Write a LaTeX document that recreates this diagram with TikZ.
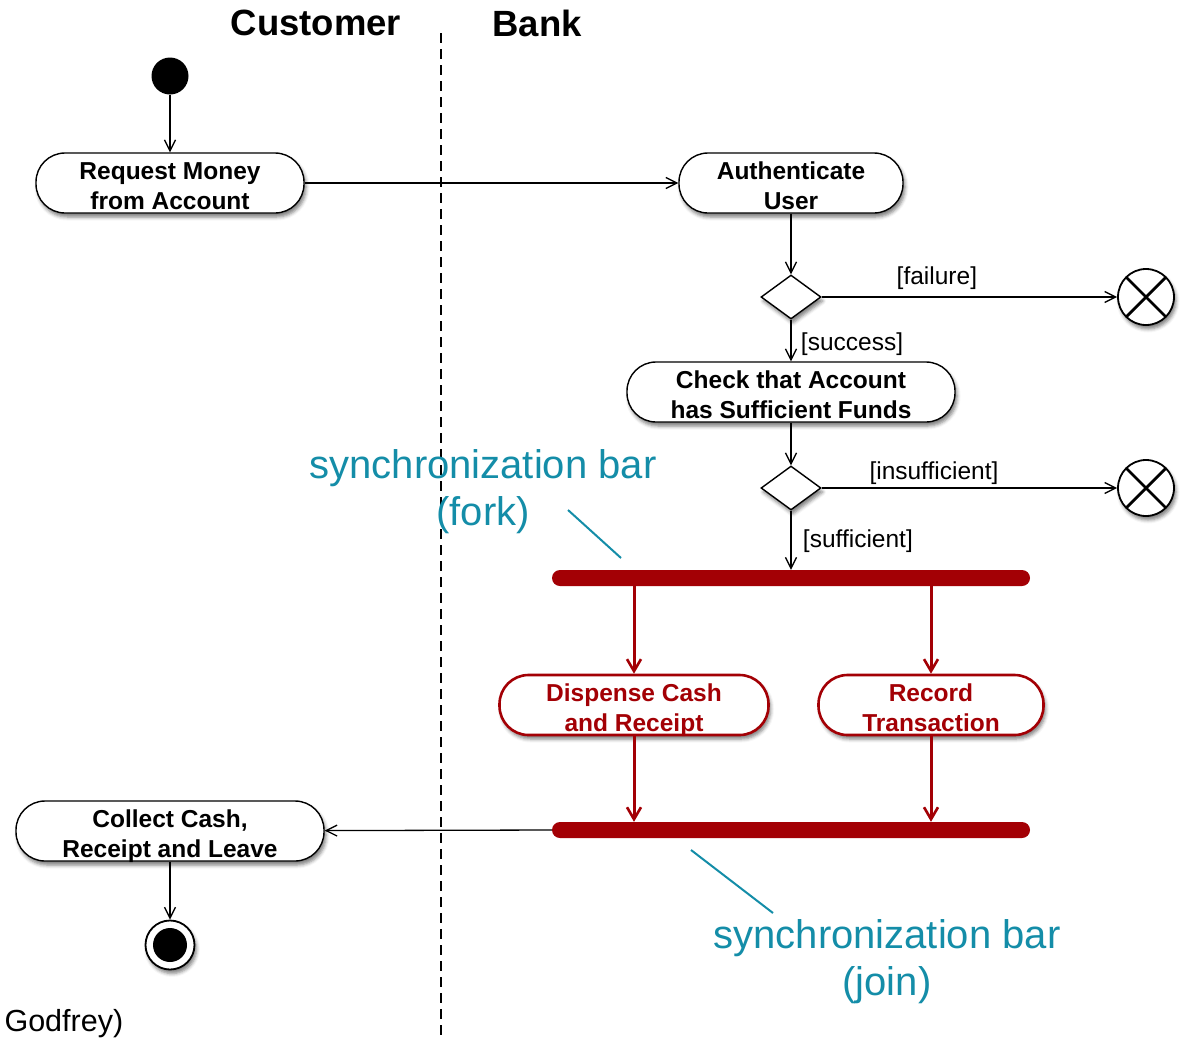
\documentclass[tikz,border=0pt]{standalone}
\usepackage{fontspec}
\setmainfont{Liberation Sans}
\usetikzlibrary{arrows.meta,shapes.geometric,shadows.blur,calc}
\definecolor{barred}{HTML}{A30005}
\definecolor{noteteal}{HTML}{148DA8}
\tikzset{
  x=1pt, y=-1pt,
  shade/.style={blur shadow={shadow xshift=2pt, shadow yshift=-4pt, shadow blur radius=3.5pt, shadow opacity=50}},
  action/.style={draw, line width=1.4pt, fill=white, rounded corners=29pt, minimum height=60pt,
    align=center, font=\fontsize{24.5}{30}\selectfont\bfseries, inner sep=0pt,
    text height=53pt, text depth=0pt, shade},
  redaction/.style={action, draw=barred, text=barred, line width=2.6pt},
  decision/.style={draw, diamond, line width=1.4pt, fill=white, minimum width=60pt, minimum height=44pt, inner sep=0pt, shade},
  flowend/.style={draw, circle, line width=1.8pt, fill=white, minimum size=56pt, inner sep=0pt, shade,
    path picture={\draw[line width=2.8pt] (path picture bounding box.north west) -- (path picture bounding box.south east)
      (path picture bounding box.north east) -- (path picture bounding box.south west);}},
  syncbar/.style={fill=barred, rounded corners=8pt, minimum width=478pt, minimum height=16pt, inner sep=0pt},
  flow/.style={line width=1.3pt, -{Straight Barb[length=11pt,width=11pt]}},
  redflow/.style={draw=barred, line width=3pt, -{Straight Barb[length=12pt,width=14pt,line width=2.6pt]}},
  guard/.style={font=\fontsize{24.5}{28}\selectfont},
  note/.style={text=noteteal, align=center, font=\fontsize{40}{47}\selectfont},
  leader/.style={draw=noteteal, line width=2pt},
  lane/.style={font=\fontsize{36.5}{40}\selectfont\bfseries}
}
\begin{document}
\begin{tikzpicture}
\useasboundingbox (0,0) rectangle (1186,1037);

% swimlane headers and divider
\node[lane] (cust) at (316,23) {Customer};
\node[lane] (bank) at (537,23) {Bank};
\coordinate (laneTop) at (441,33);
\coordinate (laneBot) at (441,1037);
\draw[line width=1.2pt, dash pattern=on 10pt off 6pt] (laneTop) -- (laneBot);

% start node
\node[circle, fill=black, minimum size=37pt, inner sep=0pt] (start) at (170,76) {};

% actions
\node[action, minimum width=268pt] (req) at (170,183) {Request Money\\from Account};
\node[action, minimum width=224pt] (auth) at (791,183) {Authenticate\\User};
\node[decision] (d1) at (791,297) {};
\node[flowend] (x1) at (1146,297) {};
\node[action, minimum width=328pt] (check) at (791,392) {Check that Account\\has Sufficient Funds};
\node[decision] (d2) at (791,488) {};
\node[flowend] (x2) at (1146,488) {};

% fork / join bars
\node[syncbar] (fork) at (791,578) {};
\node[redaction, minimum width=269pt] (disp) at (634,705) {Dispense Cash\\and Receipt};
\node[redaction, minimum width=225pt] (rec) at (931,705) {Record\\Transaction};
\node[syncbar] (join) at (791,830) {};

% customer finishing
\node[action, minimum width=308pt] (collect) at (170,831) {Collect Cash,\\Receipt and Leave};
\node[circle, draw, line width=1.8pt, fill=white, minimum size=49pt, inner sep=0pt, shade] (stop) at (170,945) {};
\node[circle, fill=black, minimum size=34pt, inner sep=0pt] (stopdot) at (stop) {};

% control flow
\draw[flow] (start) -- (req);
\draw[flow] (req) -- (auth);
\draw[flow] (auth) -- (d1);
\draw[flow] (d1) -- node[guard, above, pos=0.39, yshift=3pt] (lfail) {[failure]} (x1);
\draw[flow] (d1) -- node[guard, right, pos=0.5, xshift=6pt, yshift=-4pt] (lsucc) {[success]} (check);
\draw[flow] (check) -- (d2);
\draw[flow] (d2) -- node[guard, above, pos=0.38, yshift=-1pt] (linsuf) {[insufficient]} (x2);
\draw[flow] (d2) -- node[guard, right, pos=0.47, xshift=8pt, yshift=-3pt] (lsuf) {[sufficient]} (fork);
\draw[redflow] (fork.south -| disp.north) -- (disp);
\draw[redflow] (fork.south -| rec.north) -- (rec);
\draw[redflow] (disp) -- (join.north -| disp.south);
\draw[redflow] (rec) -- (join.north -| rec.south);
\draw[flow] (join.west) -- (collect);
\draw[flow] (collect) -- (stop);

% annotations
\node[note] (forknote) at (483,492) {synchronization bar\\(fork)};
\coordinate (forkA) at (568,510);
\coordinate (forkB) at (621,558);
\draw[leader] (forkA) -- (forkB);
\node[note] (joinnote) at (887,962) {synchronization bar\\(join)};
\coordinate (joinA) at (691,850);
\coordinate (joinB) at (773,913);
\draw[leader] (joinA) -- (joinB);

\node[anchor=base west, font=\fontsize{30.5}{34}\selectfont] (credit) at (1,1031) {Godfrey)};
\end{tikzpicture}
\end{document}
